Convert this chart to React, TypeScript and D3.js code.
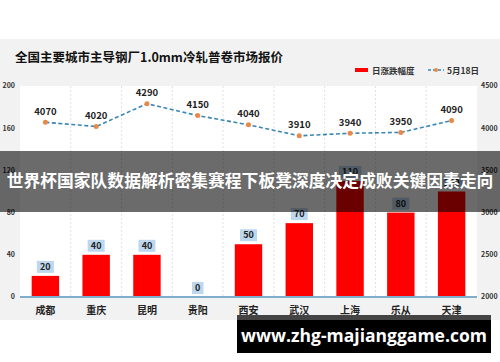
import * as d3 from "d3";
import React from "react";

const cities = ["成都", "重庆", "昆明", "贵阳", "西安", "武汉", "上海", "乐从", "天津"];
const dailyChange = [20, 40, 40, 0, 50, 70, 110, 80, 100];
const may18Price = [4070, 4020, 4290, 4150, 4040, 3910, 3940, 3950, 4090];
const leftTicks = [0, 40, 80, 120, 160, 200];
const rightTicks = [2000, 2500, 3000, 3500, 4000, 4500];

const title = "全国主要城市主导钢厂1.0mm冷轧普卷市场报价";
const barLegend = "日涨跌幅度";
const lineLegend = "5月18日";
const bannerText = "世界杯国家队数据解析密集赛程下板凳深度决定成败关键因素走向";
const watermark = "www.zhg-majianggame.com";

const W = 500;
const H = 362;
const CJK = "'Noto Sans CJK SC', 'Noto Sans', sans-serif";

export default function App() {
  const plot = { left: 20, right: 477, top: 86, bottom: 297 };

  const x = d3.scaleBand<string>().domain(cities).range([plot.left, plot.right]).padding(0);
  const yL = d3.scaleLinear().domain([0, 200]).range([plot.bottom, plot.top]);
  const yR = d3.scaleLinear().domain([2000, 4500]).range([plot.bottom, plot.top]);
  const step = x.step();
  const barW = step * 0.54;
  const cx = (c: string) => (x(c) as number) + step / 2;

  const line = d3
    .line<number>()
    .x((_, i) => cx(cities[i]))
    .y((d) => yR(d));

  return (
    <div style={{ position: "absolute", left: 0, top: 0 }}>
      <svg width={W} height={H} style={{ display: "block", background: "#fff" }}>
        {/* chart card */}
        <rect x={0} y={39} width={W} height={281} fill="#f2f2f2" />
        <text x={15} y={62} fontFamily={CJK} fontWeight={700} fontSize={12.5} fill="#111">
          {title}
        </text>

        {/* legend */}
        <rect x={355} y={68} width={13} height={4} fill="#ff0000" />
        <text x={372} y={73.5} fontFamily={CJK} fontSize={8.5} fontWeight={700} fill="#333">
          {barLegend}
        </text>
        <line x1={428} x2={444} y1={70} y2={70} stroke="#3a86b5" strokeWidth={1.4} strokeDasharray="3,2" />
        <circle cx={436} cy={70} r={2} fill="#e8894a" />
        <text x={447} y={73.5} fontFamily={CJK} fontSize={8.5} fontWeight={700} fill="#333">
          {lineLegend}
        </text>

        {/* plot area */}
        <rect x={plot.left} y={plot.top} width={plot.right - plot.left} height={plot.bottom - plot.top} fill="#fff" />
        {cities.slice(1).map((c) => (
          <line
            key={c}
            x1={x(c)}
            x2={x(c)}
            y1={plot.top}
            y2={plot.bottom}
            stroke="#d9d9d9"
            strokeWidth={0.8}
            strokeDasharray="2,2"
          />
        ))}

        {/* axis tick labels */}
        {leftTicks.map((t) => (
          <text
            key={t}
            x={15}
            y={yL(t)}
            dy="0.35em"
            textAnchor="end"
            fontFamily={CJK}
            fontSize={7}
            fontWeight={700}
            fill="#333"
          >
            {t}
          </text>
        ))}
        {rightTicks.map((t) => (
          <text
            key={t}
            x={481}
            y={yR(t)}
            dy="0.35em"
            fontFamily={CJK}
            fontSize={7}
            fontWeight={700}
            fill="#333"
          >
            {t}
          </text>
        ))}

        {/* bars */}
        {cities.map((c, i) => (
          <rect
            key={c}
            x={cx(c) - barW / 2}
            y={yL(dailyChange[i])}
            width={barW}
            height={plot.bottom - yL(dailyChange[i])}
            fill="#ff0000"
          />
        ))}
        <line x1={plot.left} x2={plot.right} y1={plot.bottom} y2={plot.bottom} stroke="#7fadcc" strokeWidth={2} />

        {/* bar labels */}
        {cities.map((c, i) => {
          const txt = String(dailyChange[i]);
          const bw = txt.length * 5.5 + 6;
          const by = yL(dailyChange[i]) - 15;
          return (
            <g key={c}>
              <rect x={cx(c) - bw / 2} y={by} width={bw} height={12} fill="#bdd7ee" />
              <text
                x={cx(c)}
                y={by + 6}
                dy="0.36em"
                textAnchor="middle"
                fontFamily={CJK}
                fontSize={9}
                fontWeight={700}
                fill="#222"
              >
                {txt}
              </text>
            </g>
          );
        })}

        {/* line series */}
        <path d={line(may18Price) as string} fill="none" stroke="#3a86b5" strokeWidth={1.6} strokeDasharray="4,2.5" />
        {may18Price.map((v, i) => (
          <g key={cities[i]}>
            <circle cx={cx(cities[i])} cy={yR(v)} r={2.5} fill="#e8894a" />
            <text
              x={cx(cities[i])}
              y={yR(v) - 11}
              dy="0.35em"
              textAnchor="middle"
              fontFamily={CJK}
              fontSize={9.5}
              fontWeight={700}
              fill="#222"
            >
              {v}
            </text>
          </g>
        ))}

        {/* category labels */}
        {cities.map((c) => (
          <text
            key={c}
            x={cx(c)}
            y={310}
            dy="0.35em"
            textAnchor="middle"
            fontFamily={CJK}
            fontSize={10}
            fontWeight={700}
            fill="#222"
          >
            {c}
          </text>
        ))}

        {/* banner overlay */}
        <rect x={0} y={151} width={W} height={61} fill="rgba(0,0,0,0.58)" />
        <text
          x={W / 2}
          y={181.5}
          dy="0.35em"
          textAnchor="middle"
          fontFamily={CJK}
          fontSize={16.8}
          fontWeight={700}
          fill="#fff"
        >
          {bannerText}
        </text>

        {/* watermark */}
        <rect x={237} y={315} width={254} height={38} fill="#000" />
        <rect x={237} y={315} width={254} height={5} fill="#444" />
        <text
          x={364}
          y={336}
          dy="0.35em"
          textAnchor="middle"
          fontFamily="'Open Sans', 'DejaVu Sans', sans-serif"
          fontSize={17.5}
          fontWeight={700}
          fill="#fff"
        >
          {watermark}
        </text>
      </svg>
    </div>
  );
}
